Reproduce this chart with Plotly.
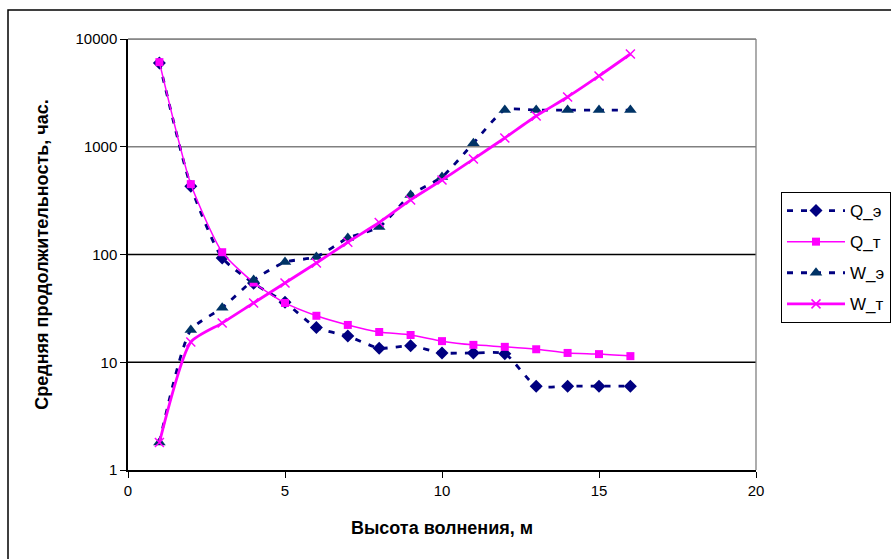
import plotly.graph_objects as go

# Wave height, m
heights = list(range(1, 17))

# Mean duration, hours (experimental "э" and theoretical "т")
q_exp = [6000, 430, 93, 54, 36, 21, 17.5, 13.5, 14.2, 12.2, 12.2, 12.0, 6.0, 6.0, 6.0, 6.0]
q_theor = [6100, 450, 105, 55, 35.5, 27, 22.2, 19.1, 17.9, 15.7, 14.5, 13.9, 13.2, 12.2, 11.9, 11.4]
w_exp = [1.8, 19.9, 32, 58, 85, 95, 142, 180, 357, 524, 1080, 2190, 2190, 2190, 2190, 2190]
w_theor = [1.8, 15.4, 23.1, 35.5, 54.4, 83.4, 130, 198, 321, 491, 769, 1206, 1929, 2896, 4540, 7260]

NAVY = "#000080"
MAGENTA = "#FF00FF"
FONT = "Liberation Sans, Arial, sans-serif"

W, H = 891, 559
L, R, T, B = 128, 891 - 756, 39, 559 - 470

fig = go.Figure()

fig.add_trace(go.Scatter(
    x=heights, y=q_exp, name="Q_э", legendgroup="a",
    mode="lines+markers",
    line=dict(color=NAVY, width=2.8, dash="6px,8px", shape="spline", smoothing=0.6),
    marker=dict(symbol="diamond", size=10, color=NAVY, line=dict(width=0)),
))
fig.add_trace(go.Scatter(
    x=heights, y=q_theor, name="Q_т", legendgroup="b",
    mode="lines+markers",
    line=dict(color=MAGENTA, width=1.5, shape="spline", smoothing=0.6),
    marker=dict(symbol="square", size=8, color=MAGENTA, line=dict(width=0)),
))
fig.add_trace(go.Scatter(
    x=heights, y=w_exp, name="W_э", legendgroup="c",
    mode="lines+markers",
    line=dict(color=NAVY, width=2.8, dash="6px,8px", shape="spline", smoothing=0.6),
    marker=dict(symbol="triangle-up", size=11, color="#003366", line=dict(width=0)),
))
fig.add_trace(go.Scatter(
    x=heights, y=w_theor, name="W_т", legendgroup="d",
    mode="lines+markers",
    line=dict(color=MAGENTA, width=2.8, shape="spline", smoothing=0.6),
    marker=dict(symbol="x-thin", size=9, color=MAGENTA, line=dict(width=1.5, color=MAGENTA)),
))

# Horizontal gridlines at each decade
grid_colors = {10: "#000000", 100: "#000000", 1000: "#808080", 10000: "#808080"}
shapes = []
for val, col in grid_colors.items():
    shapes.append(dict(type="line", xref="paper", yref="y", x0=0, x1=1, y0=val, y1=val,
                       line=dict(color=col, width=1.3), layer="below"))
# Plot-area frame (top and right)
shapes.append(dict(type="line", xref="paper", yref="paper", x0=0, x1=1, y0=1, y1=1,
                   line=dict(color="#808080", width=1.3), layer="below"))
shapes.append(dict(type="line", xref="paper", yref="paper", x0=1, x1=1, y0=0, y1=1,
                   line=dict(color="#808080", width=1.3), layer="below"))
# Outer chart border
pw, ph = W - L - R, H - T - B
shapes.append(dict(type="rect", xref="paper", yref="paper",
                   x0=(8 - L) / pw, x1=(W + 5 - L) / pw,
                   y0=(H - B - (H + 5)) / ph, y1=(H - B - 10) / ph,
                   line=dict(color="#000000", width=1.5)))

fig.update_layout(
    width=W, height=H,
    margin=dict(l=L, r=R, t=T, b=B, autoexpand=False),
    paper_bgcolor="white", plot_bgcolor="white",
    font=dict(family=FONT, size=14, color="black"),
    showlegend=True,
    legend=dict(
        x=(781 - L) / pw, y=(H - B - 192) / ph, xanchor="left", yanchor="top",
        bordercolor="black", borderwidth=1, bgcolor="white",
        font=dict(family=FONT, size=17, color="black"),
        itemwidth=58, tracegroupgap=6,
    ),
    shapes=shapes,
    xaxis=dict(
        range=[0, 20], dtick=5, tick0=0,
        showgrid=False, zeroline=False,
        showline=True, linecolor="black", linewidth=1.5,
        ticks="outside", ticklen=6, tickcolor="black", tickwidth=1,
        tickfont=dict(family=FONT, size=15),
        title=dict(text="<b>Высота волнения, м</b>", font=dict(family=FONT, size=18), standoff=24),
    ),
    yaxis=dict(
        type="log", range=[0, 4],
        tickvals=[1, 10, 100, 1000, 10000], ticktext=["1", "10", "100", "1000", "10000"],
        showgrid=False, zeroline=False,
        showline=True, linecolor="black", linewidth=1.5,
        ticks="outside", ticklen=6, tickcolor="black", tickwidth=1,
        tickfont=dict(family=FONT, size=15),
        title=dict(text="<b>Средняя продолжительность, час.</b>", font=dict(family=FONT, size=18), standoff=22),
    ),
)

fig.write_html("out.html")
